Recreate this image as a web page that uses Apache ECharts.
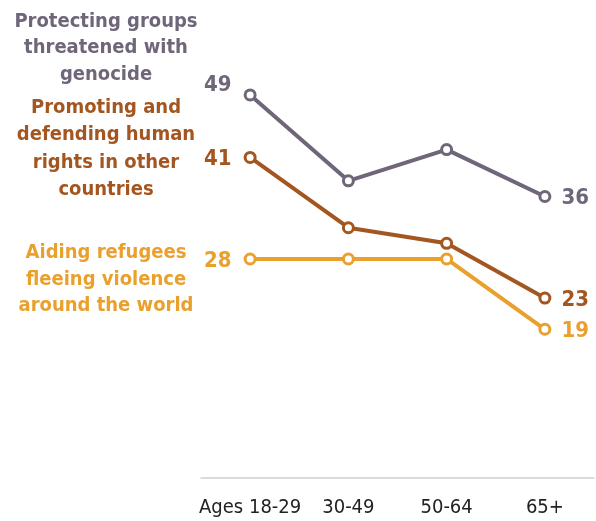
<!DOCTYPE html>
<html><head><meta charset="utf-8">
<script src="https://cdn.jsdelivr.net/npm/echarts@6/dist/echarts.min.js"></script>
<style>html,body{margin:0;padding:0;background:#fff}#c{width:596px;height:521px}</style>
</head><body><div id="c"></div>
<script>
const categories = ["Ages 18-29", "30-49", "50-64", "65+"];
const genocide = [49, 38, 42, 36];
const humanRights = [41, 32, 30, 23];
const refugees = [28, 28, 28, 19];
const seriesNames = [
  "Protecting groups\nthreatened with\ngenocide",
  "Promoting and\ndefending human\nrights in other\ncountries",
  "Aiding refugees\nfleeing violence\naround the world"
];
const colors = ["#6f6679", "#a3561f", "#e9a02c"];
const FONT = "'Liberation Sans Narrow','DejaVu Sans Condensed','Liberation Sans',sans-serif";

function mk(name, data, color, firstLabel) {
  return {
    name: name, type: 'line', data: data.map((v, i) => {
      const item = { value: v, label: { show: false } };
      if (i === 0) item.label = Object.assign({ show: true }, firstLabel);
      if (i === data.length - 1) item.label = { show: true, position: 'right', distance: 10, offset: [0, 2] };
      return item;
    }),
    symbol: 'circle', symbolSize: 10,
    itemStyle: { color: '#fff', borderColor: color, borderWidth: 3 },
    lineStyle: { color: color, width: 4 },
    label: { color: color, fontFamily: FONT, fontWeight: 'bold', fontSize: 22 },
    z: 3
  };
}

const chart = echarts.init(document.getElementById('c'));
chart.setOption({
  animation: false,
  grid: { left: 201, width: 393, top: 9, bottom: 521 - 477.7, containLabel: false },
  xAxis: {
    type: 'category', data: categories, boundaryGap: true,
    axisLine: { lineStyle: { color: '#d0d0d0', width: 1.5 } },
    axisTick: { show: false },
    axisLabel: { color: '#222', fontFamily: FONT, fontSize: 20, margin: 20, interval: 0 }
  },
  yAxis: { type: 'value', min: 0, max: 60, show: false, splitLine: { show: false } },
  series: [
    mk(seriesNames[0], genocide, colors[0], { position: 'left', distance: 12, offset: [0, -10] }),
    mk(seriesNames[1], humanRights, colors[1], { position: 'left', distance: 12, offset: [0, 2] }),
    mk(seriesNames[2], refugees, colors[2], { position: 'left', distance: 12, offset: [0, 2] })
  ],
  graphic: [
    { type: 'text', x: 106, y: 8, style: { text: seriesNames[0], fill: colors[0], font: "bold 20px " + FONT, align: 'center', lineHeight: 26.7 } },
    { type: 'text', x: 106, y: 94, style: { text: seriesNames[1], fill: colors[1], font: "bold 20px " + FONT, align: 'center', lineHeight: 27.5 } },
    { type: 'text', x: 106, y: 240, style: { text: seriesNames[2], fill: colors[2], font: "bold 20px " + FONT, align: 'center', lineHeight: 26.3 } }
  ]
});
</script></body></html>
